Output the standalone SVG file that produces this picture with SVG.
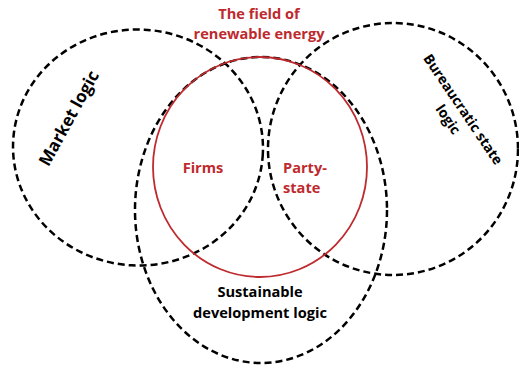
<svg xmlns="http://www.w3.org/2000/svg" width="519" height="367" viewBox="0 0 519 367">
<style>
.logic{fill:none;stroke:#000;stroke-width:2.5;stroke-dasharray:7 4}
.field{fill:none;stroke:#be2a2e;stroke-width:1.8}
text{font-family:"Open Sans","Liberation Sans",sans-serif;font-weight:bold}
.red{fill:#be2a2e;font-size:14.6px}
.blk{fill:#000;font-size:14.6px}
</style>
<rect width="519" height="367" fill="#fff"/>
<g id="market-logic">
<ellipse class="logic" cx="138" cy="147.5" rx="125" ry="118" transform="rotate(3 138 147.5)"/>
<text class="blk" style="font-size:17px" text-anchor="middle" transform="translate(74 121) rotate(-61)">Market logic</text>
</g>
<g id="bureaucratic-state-logic">
<ellipse class="logic" cx="393" cy="149" rx="125" ry="126"/>
<text class="blk" style="font-size:14px" text-anchor="middle" transform="translate(459 112) rotate(56)"><tspan x="0" y="0">Bureaucratic state</tspan><tspan x="0" y="18">logic</tspan></text>
</g>
<g id="sustainable-development-logic">
<ellipse class="logic" cx="261" cy="210" rx="126" ry="153"/>
<text class="blk" text-anchor="middle"><tspan x="260" y="297">Sustainable</tspan><tspan x="260" y="318">development logic</tspan></text>
</g>
<g id="field-renewable-energy">
<ellipse class="field" cx="260" cy="167" rx="107" ry="110"/>
<text class="red" text-anchor="middle"><tspan x="259" y="19">The field of</tspan><tspan x="259" y="39">renewable energy</tspan></text>
</g>
<g id="firms">
<text class="red" x="203" y="173" text-anchor="middle">Firms</text>
</g>
<g id="party-state">
<text class="red"><tspan x="283" y="173">Party-</tspan><tspan x="283" y="193">state</tspan></text>
</g>
<g id="connectors"></g>
</svg>
